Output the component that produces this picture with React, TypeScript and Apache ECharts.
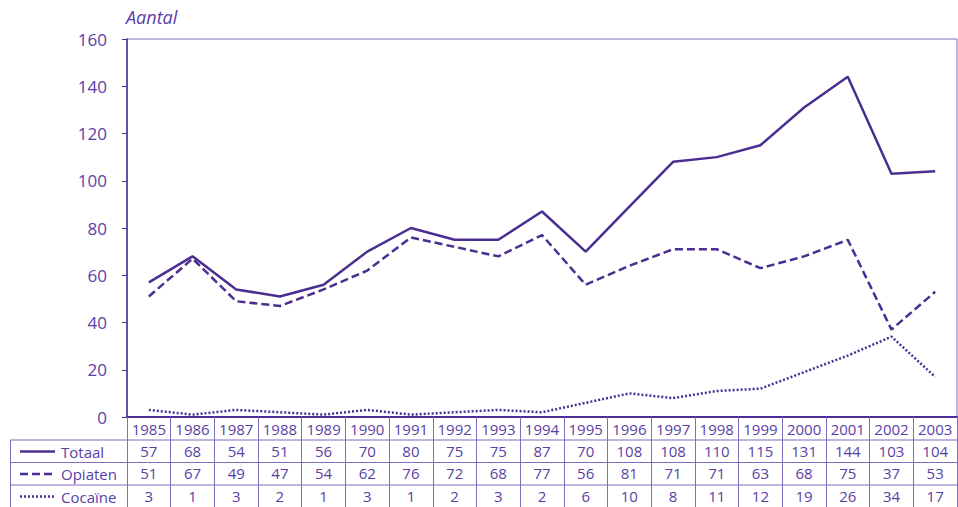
import React, { useEffect, useRef } from "react";
import * as echarts from "echarts";

const years = ["1985","1986","1987","1988","1989","1990","1991","1992","1993","1994","1995","1996","1997","1998","1999","2000","2001","2002","2003"];
// plotted values (as drawn in the chart)
const totaal = [57, 68, 54, 51, 56, 70, 80, 75, 75, 87, 70, 89, 108, 110, 115, 131, 144, 103, 104];
const opiaten = [51, 67, 49, 47, 54, 62, 76, 72, 68, 77, 56, 64, 71, 71, 63, 68, 75, 37, 53];
const cocaine = [3, 1, 3, 2, 1, 3, 1, 2, 3, 2, 6, 10, 8, 11, 12, 19, 26, 34, 17];
// values printed in the table
const tableTotaal = ["57","68","54","51","56","70","80","75","75","87","70","108","108","110","115","131","144","103","104"];
const tableOpiaten = ["51","67","49","47","54","62","76","72","68","77","56","81","71","71","63","68","75","37","53"];
const tableCocaine = ["3","1","3","2","1","3","1","2","3","2","6","10","8","11","12","19","26","34","17"];
const rowNames = ["Totaal", "Opiaten", "Cocaïne"];
const yTicks = { min: 0, max: 160, interval: 20 };

const LINE = "#4b2e91";
const TEXT = "#5a3ea6";
const BORDER = "#7f6cbd";
const FONT = "'Open Sans', 'Noto Sans', sans-serif";

export default function App() {
  const ref = useRef<HTMLDivElement>(null);
  useEffect(() => {
    if (!ref.current) return;
    const chart = echarts.init(ref.current, null, { renderer: "svg" });
    const gridLeft = 127;
    const gridRight = 957;
    const axisY = 417;
    const rowTops = [440, 462.5, 485];
    const tableRows = [tableTotaal, tableOpiaten, tableCocaine];
    const extraAxes = tableRows.map((row, i) => ({
      type: "category",
      data: years,
      position: "bottom",
      offset: rowTops[i] - axisY,
      boundaryGap: true,
      axisLine: { show: false },
      axisTick: { show: false },
      axisLabel: {
        interval: 0,
        margin: 3,
        color: TEXT,
        fontSize: 15,
        fontFamily: FONT,
        formatter: (_v: string, idx: number) => row[idx],
      },
    }));
    const dashes = ["solid", [8, 4], [2, 2]];
    const graphic: any[] = [];
    rowTops.forEach((y) => {
      graphic.push({
        type: "line",
        shape: { x1: 10, y1: y, x2: gridRight, y2: y },
        style: { stroke: BORDER, lineWidth: 1 },
        silent: true,
      });
    });
    graphic.push({
      type: "line",
      shape: { x1: 10.5, y1: rowTops[0], x2: 10.5, y2: 507 },
      style: { stroke: BORDER, lineWidth: 1 },
    });
    rowNames.forEach((name, i) => {
      const cy = rowTops[i] + 11.5;
      graphic.push({
        type: "line",
        shape: { x1: 20, y1: cy, x2: 55, y2: cy },
        style: { stroke: LINE, lineWidth: 2.5, lineDash: dashes[i] === "solid" ? null : dashes[i] },
      });
      graphic.push({
        type: "text",
        x: 61,
        y: cy,
        style: { text: name, fill: TEXT, fontSize: 15, fontFamily: FONT, verticalAlign: "middle", align: "left" },
      });
    });

    const mkSeries = (name: string, data: number[], type: any) => ({
      name,
      type: "line",
      data,
      symbol: "none",
      lineStyle: { color: LINE, width: 2.5, type },
      itemStyle: { color: LINE },
    });

    chart.setOption({
      animation: false,
      title: {
        text: "Aantal",
        left: 121,
        top: 3,
        textStyle: { color: TEXT, fontSize: 18, fontStyle: "italic", fontWeight: "normal", fontFamily: FONT },
      },
      grid: {
        left: gridLeft,
        right: 958 - gridRight,
        top: 39,
        bottom: 507 - axisY,
        show: true,
        borderColor: BORDER,
        borderWidth: 1,
      },
      xAxis: [
        {
          type: "category",
          data: years,
          boundaryGap: true,
          axisLine: { lineStyle: { color: LINE, width: 2 } },
          axisTick: { show: true, inside: false, length: 90, lineStyle: { color: BORDER, width: 1 } },
          axisLabel: { interval: 0, margin: 4, color: TEXT, fontSize: 15, fontFamily: FONT },
        },
        ...extraAxes,
      ],
      yAxis: {
        type: "value",
        min: yTicks.min,
        max: yTicks.max,
        interval: yTicks.interval,
        axisLine: { show: true, lineStyle: { color: LINE, width: 1.5 } },
        axisTick: { show: true, length: 5, lineStyle: { color: LINE } },
        splitLine: { show: false },
        axisLabel: { color: TEXT, fontSize: 17, fontFamily: FONT, margin: 20 },
      },
      graphic,
      series: [
        mkSeries("Totaal", totaal, "solid"),
        mkSeries("Opiaten", opiaten, [8, 4]),
        mkSeries("Cocaïne", cocaine, [2, 2]),
      ],
    });
    return () => chart.dispose();
  }, []);
  return <div ref={ref} style={{ position: "absolute", left: 0, top: 0, width: 958, height: 507 }} />;
}
